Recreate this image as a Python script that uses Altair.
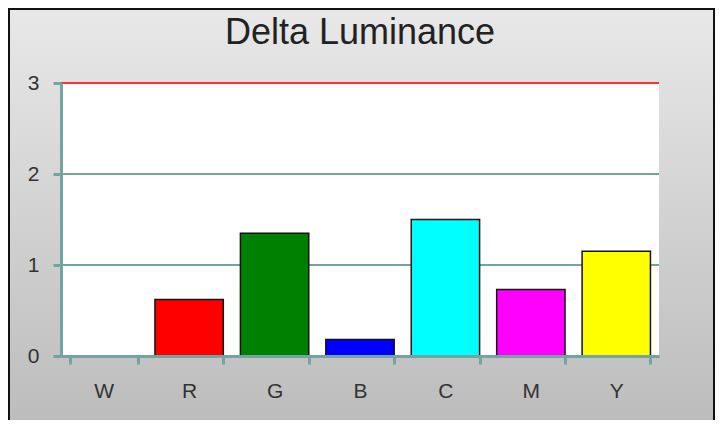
import altair as alt
import pandas as pd

categories = ["W", "R", "G", "B", "C", "M", "Y"]
values = [0.0, 0.62, 1.35, 0.18, 1.50, 0.73, 1.15]
bar_colors = ["#ffffff", "#ff0000", "#008000", "#0000ff", "#00ffff", "#ff00ff", "#ffff00"]
grid_values = [1, 2]
limit_values = [3]
y_ticks = [0, 1, 2, 3]

W, H = 598, 273
PL, PT, PR, PB = 53, 75, 56, 64
TEAL = "#72a4a1"
FONT = "Liberation Sans"

bars_df = pd.DataFrame({"cat": categories, "val": values, "color": bar_colors})
grid_df = pd.DataFrame({"val": grid_values})
limit_df = pd.DataFrame({"val": limit_values})
one_df = pd.DataFrame({"a": [0]})

xscale = alt.Scale(domain=categories, paddingInner=0.2, paddingOuter=0.1)
yscale = alt.Scale(domain=[0, 3], nice=False, zero=True)

y_axis = alt.Axis(values=y_ticks, grid=False, title=None, domainColor=TEAL, domainWidth=3,
                  tickColor=TEAL, tickWidth=3, tickSize=8, labelFontSize=21, labelPadding=14,
                  labelColor="#333333", labelFont=FONT, zindex=1)
x_axis = alt.Axis(labelAngle=0, title=None, tickBand="extent", domainColor=TEAL, domainWidth=3,
                  tickColor=TEAL, tickWidth=3, tickSize=8, labelFontSize=21, labelPadding=16,
                  labelColor="#333333", labelFont=FONT, zindex=1)


def yenc():
    return alt.Y("val:Q", scale=yscale, axis=y_axis, title=None)


gradient = alt.Gradient(
    gradient="linear",
    stops=[alt.GradientStop(color="#e8e8e8", offset=0),
           alt.GradientStop(color="#bcbcbc", offset=1)],
    x1=0, x2=0, y1=0, y2=1,
)

bg = alt.Chart(one_df).mark_rect(fill=gradient, stroke="#111111", strokeWidth=2).encode(
    x=alt.value(-PL + 1), x2=alt.value(W + PR - 1),
    y=alt.value(-PT + 1), y2=alt.value(H + PB + 4),
)
panel = alt.Chart(one_df).mark_rect(fill="white").encode(
    x=alt.value(0), x2=alt.value(W), y=alt.value(0), y2=alt.value(H)
)
grid = alt.Chart(grid_df).mark_rule(color=TEAL, strokeWidth=2).encode(y=yenc())
limit = alt.Chart(limit_df).mark_rule(color="#ff3030", strokeWidth=2).encode(y=yenc())
bars = alt.Chart(bars_df).mark_bar(stroke="#111111", strokeWidth=1.5).encode(
    x=alt.X("cat:N", scale=xscale, sort=categories, axis=x_axis),
    y=yenc(),
    color=alt.Color("color:N", scale=None),
)

chart = alt.layer(bg, panel, grid, limit, bars).properties(
    width=W, height=H,
    padding={"left": PL, "top": PT, "right": PR, "bottom": PB},
    autosize=alt.AutoSizeParams(type="none"),
    title=alt.TitleParams("Delta Luminance", fontSize=36, font=FONT, fontWeight="normal",
                          color="#222222", anchor="middle", baseline="alphabetic", offset=-72),
).configure_view(stroke=None)

chart.save("out.html", embed_options={"renderer": "svg", "actions": False})
